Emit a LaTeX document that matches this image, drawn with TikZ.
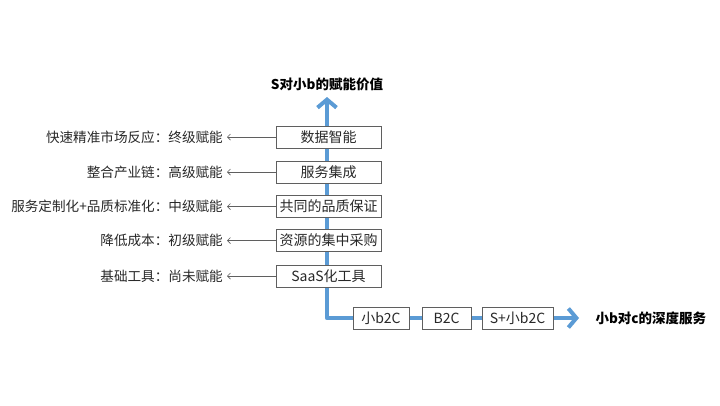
\documentclass[tikz,border=0pt]{standalone}
\usepackage{fontspec}
\setmainfont{Noto Sans CJK SC}
\usetikzlibrary{arrows.meta}
\definecolor{blueline}{RGB}{91,155,213}
\definecolor{boxline}{RGB}{95,95,95}
\definecolor{txt}{RGB}{40,40,40}
\begin{document}
\begin{tikzpicture}[x=1pt,y=-1pt,
  box/.style={draw=boxline, line width=0.8pt, fill=white, minimum height=22, inner sep=0, text=txt, font=\fontsize{14}{14}\selectfont},
  vbox/.style={box, minimum width=105},
  lab/.style={anchor=east, inner xsep=4pt, inner ysep=2pt, text=txt, font=\fontsize{13.6}{13.6}\selectfont},
  head/.style={text=black, font=\fontsize{13.5}{13.5}\selectfont\bfseries},
  garrow/.style={draw=boxline, line width=0.7pt, -{Straight Barb[length=3pt,width=6pt]}},
  flow/.style={draw=blueline, line width=4.5pt, line join=round,
    {Straight Barb[length=8pt,width=19pt,line width=4pt]}-{Straight Barb[length=8pt,width=19pt,line width=4pt]}}
]
\useasboundingbox (0,0) rectangle (720,405);
\coordinate (top) at (327,97);
\coordinate (corner) at (327,318);
\coordinate (right) at (579,318);
\path[flow] (top) -- (corner) -- (right);

\node[head] (t1) at (327,84) {S对小b的赋能价值};
\node[head, anchor=west] (t2) at (592,318) {小b对c的深度服务};

\node[vbox] (b1) at (328.5,137) {数据智能};
\node[vbox] (b2) at (328.5,172) {服务集成};
\node[vbox] (b3) at (328.5,206.5) {共同的品质保证};
\node[vbox] (b4) at (328.5,240.5) {资源的集中采购};
\node[vbox] (b5) at (328.5,276) {SaaS化工具};

\node[lab] (l1) at (227,137) {快速精准市场反应：终级赋能};
\node[lab] (l2) at (227,172) {整合产业链：高级赋能};
\node[lab] (l3) at (227,206.5) {服务定制化+品质标准化：中级赋能};
\node[lab] (l4) at (227,240.5) {降低成本：初级赋能};
\node[lab] (l5) at (227,276) {基础工具：尚未赋能};

\foreach \i in {1,...,5} \draw[garrow] (b\i.west) -- (l\i.east);

\node[box, minimum width=56] (c1) at (381,318.5) {小b2C};
\node[box, minimum width=49] (c2) at (446.5,318.5) {B2C};
\node[box, minimum width=71] (c3) at (517.5,318.5) {S+小b2C};
\end{tikzpicture}
\end{document}
